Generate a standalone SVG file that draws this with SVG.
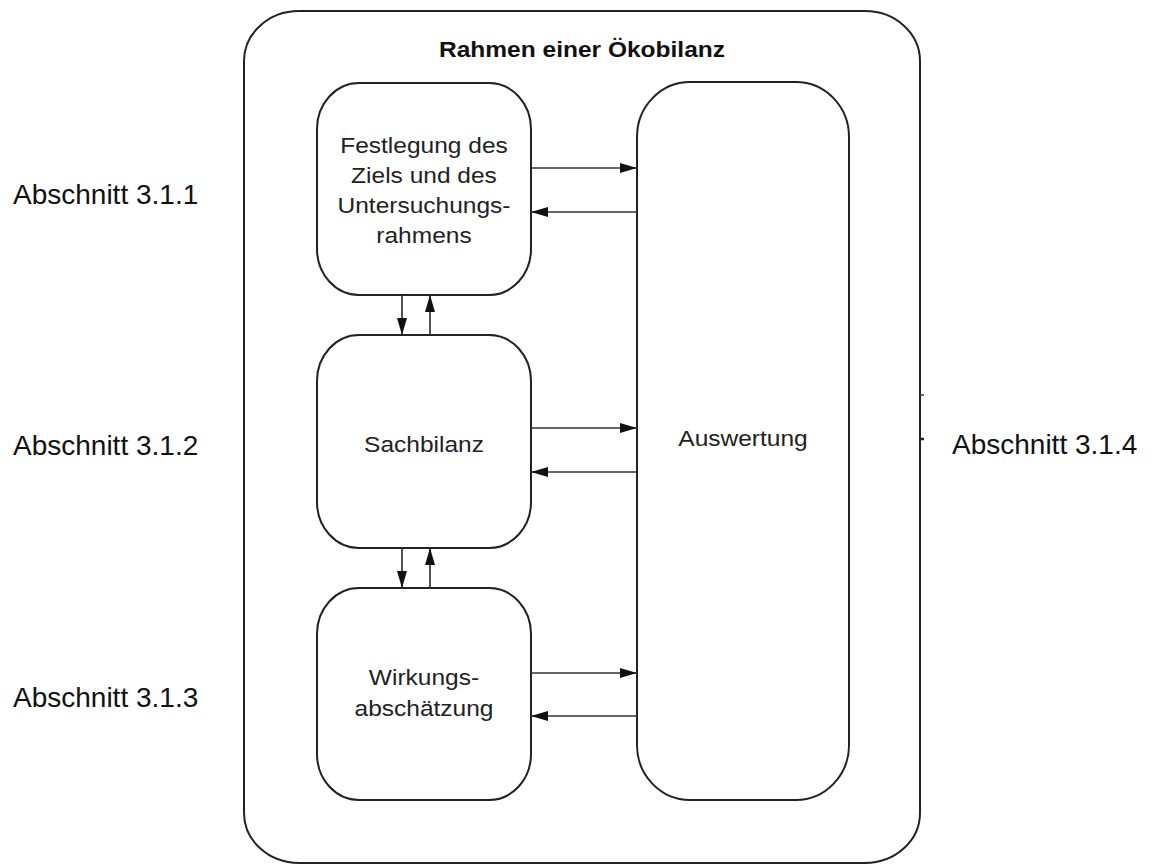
<svg xmlns="http://www.w3.org/2000/svg" width="1152" height="866" viewBox="0 0 1152 866">
  <style>
    .frame { fill: none; stroke: #222; stroke-width: 2; }
    .box { fill: #fff; stroke: #222; stroke-width: 2; }
    .link { fill: none; stroke: #333; stroke-width: 1.7; }
    .lbl { font-family: "Liberation Sans", Arial, sans-serif; font-size: 22.5px; fill: #222; text-anchor: middle; }
    .title { font-family: "Liberation Sans", Arial, sans-serif; font-size: 22.5px; font-weight: bold; fill: #111; text-anchor: middle; }
    .sec { font-family: "Liberation Sans", Arial, sans-serif; font-size: 28px; fill: #111; }
  </style>
  <defs>
    <marker id="arrow" viewBox="0 0 17 10" refX="17" refY="5" markerWidth="17" markerHeight="10" markerUnits="userSpaceOnUse" orient="auto">
      <path d="M0,0 L17,5 L0,10 Z" fill="#111"/>
    </marker>
  </defs>
  <rect width="1152" height="866" fill="#fff"/>

  <!-- outer frame: life cycle assessment framework -->
  <g id="frame">
    <rect class="frame" x="244" y="11" width="676" height="852" rx="55" ry="50"/>
    <text class="title" transform="translate(582,57) scale(1.09,1)">Rahmen einer Ökobilanz</text>
    <line x1="920" y1="395" x2="924" y2="395" stroke="#333" stroke-width="1.5"/>
    <line x1="920" y1="439" x2="924" y2="439" stroke="#222" stroke-width="2.5"/>
  </g>

  <!-- phase boxes -->
  <g id="ziel">
    <rect class="box" x="317" y="83" width="214" height="212" rx="42" ry="46"/>
    <text class="lbl" transform="translate(424,153) scale(1.09,1)">Festlegung des</text>
    <text class="lbl" transform="translate(424,183) scale(1.09,1)">Ziels und des</text>
    <text class="lbl" transform="translate(424,213) scale(1.09,1)">Untersuchungs-</text>
    <text class="lbl" transform="translate(424,243) scale(1.09,1)">rahmens</text>
  </g>
  <g id="sachbilanz">
    <rect class="box" x="317" y="335" width="214" height="213" rx="42" ry="46"/>
    <text class="lbl" transform="translate(424,452) scale(1.09,1)">Sachbilanz</text>
  </g>
  <g id="wirkung">
    <rect class="box" x="317" y="588" width="214" height="212" rx="42" ry="46"/>
    <text class="lbl" transform="translate(424,685) scale(1.09,1)">Wirkungs-</text>
    <text class="lbl" transform="translate(424,716) scale(1.09,1)">abschätzung</text>
  </g>
  <g id="auswertung">
    <rect class="box" x="637" y="82" width="212" height="718" rx="53" ry="55"/>
    <text class="lbl" transform="translate(743,446) scale(1.09,1)">Auswertung</text>
  </g>

  <!-- connectors -->
  <g id="connectors">
    <line class="link" x1="531" y1="168" x2="637" y2="168" marker-end="url(#arrow)"/>
    <line class="link" x1="637" y1="212" x2="531" y2="212" marker-end="url(#arrow)"/>
    <line class="link" x1="531" y1="428" x2="637" y2="428" marker-end="url(#arrow)"/>
    <line class="link" x1="637" y1="472" x2="531" y2="472" marker-end="url(#arrow)"/>
    <line class="link" x1="531" y1="673" x2="637" y2="673" marker-end="url(#arrow)"/>
    <line class="link" x1="637" y1="716" x2="531" y2="716" marker-end="url(#arrow)"/>
    <line class="link" x1="402" y1="295" x2="402" y2="335" marker-end="url(#arrow)"/>
    <line class="link" x1="430" y1="335" x2="430" y2="295" marker-end="url(#arrow)"/>
    <line class="link" x1="402" y1="548" x2="402" y2="588" marker-end="url(#arrow)"/>
    <line class="link" x1="430" y1="588" x2="430" y2="548" marker-end="url(#arrow)"/>
  </g>

  <!-- section references -->
  <g id="sections">
    <text class="sec" x="13" y="204">Abschnitt 3.1.1</text>
    <text class="sec" x="13" y="455">Abschnitt 3.1.2</text>
    <text class="sec" x="13" y="707">Abschnitt 3.1.3</text>
    <text class="sec" x="952" y="454">Abschnitt 3.1.4</text>
  </g>
</svg>
